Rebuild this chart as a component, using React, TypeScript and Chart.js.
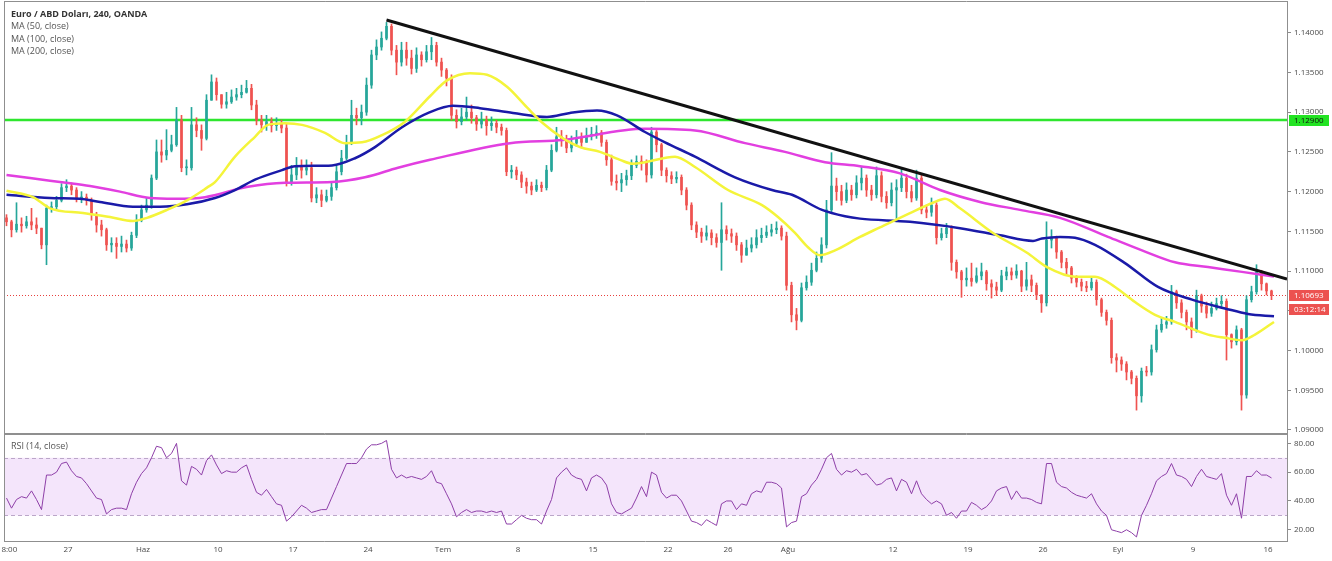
import React, { useEffect, useRef } from 'react';
import { Chart, registerables } from 'chart.js';
Chart.register(...registerables);

// ---- EUR/USD candles (each candle here ~8h) ----
const FIRST_OPEN = 1.1167;
const closes = [
  1.1162, 1.1152, 1.1159, 1.1157, 1.1162, 1.1158, 1.1154, 1.1133, 1.1179, 1.1181,
  1.1189, 1.1205, 1.1207, 1.1202, 1.1192, 1.1193, 1.1189, 1.1171, 1.1158, 1.1152,
  1.1133, 1.1135, 1.1131, 1.1134, 1.1129, 1.1145, 1.1164, 1.1177, 1.1183, 1.1217,
  1.1250, 1.1246, 1.1252, 1.1259, 1.1290, 1.1230, 1.1230, 1.1284, 1.1277, 1.1267,
  1.1315, 1.1338, 1.1322, 1.1310, 1.1313, 1.1319, 1.1322, 1.1325, 1.1330, 1.1309,
  1.1290, 1.1284, 1.1288, 1.1283, 1.1285, 1.1280, 1.1212, 1.1221, 1.1233, 1.1227,
  1.1230, 1.1192, 1.1196, 1.1189, 1.1194, 1.1205, 1.1225, 1.1242, 1.1261, 1.1296,
  1.1293, 1.1300, 1.1334, 1.1372, 1.1382, 1.1393, 1.1408, 1.1378, 1.1363, 1.1378,
  1.1368, 1.1355, 1.1372, 1.1366, 1.1376, 1.1384, 1.1363, 1.1353, 1.1343, 1.1296,
  1.1288, 1.1294, 1.1300, 1.1293, 1.1285, 1.1290, 1.1283, 1.1286, 1.1281, 1.1277,
  1.1225, 1.1227, 1.1221, 1.1212, 1.1207, 1.1202, 1.1208, 1.1205, 1.1227, 1.1252,
  1.1269, 1.1265, 1.1255, 1.1261, 1.1267, 1.1262, 1.1270, 1.1272, 1.1274, 1.1262,
  1.1240, 1.1213, 1.1211, 1.1215, 1.1220, 1.1233, 1.1238, 1.1237, 1.1221, 1.1275,
  1.1259, 1.1227, 1.1220, 1.1216, 1.1218, 1.1202, 1.1183, 1.1158, 1.1149, 1.1144,
  1.1148, 1.1142, 1.1136, 1.1152, 1.1147, 1.1144, 1.1133, 1.1120, 1.1129, 1.1133,
  1.1142, 1.1145, 1.1149, 1.1152, 1.1154, 1.1144, 1.1082, 1.1045, 1.1038, 1.1079,
  1.1086, 1.1101, 1.1116, 1.1133, 1.1177, 1.1207, 1.1200, 1.1189, 1.1202, 1.1196,
  1.1211, 1.1217, 1.1202, 1.1196, 1.1220, 1.1194, 1.1186, 1.1202, 1.1205, 1.1217,
  1.1200, 1.1192, 1.1217, 1.1177, 1.1174, 1.1183, 1.1142, 1.1147, 1.1154, 1.1111,
  1.1099, 1.1089, 1.1091, 1.1087, 1.1094, 1.1099, 1.1084, 1.1080, 1.1076, 1.1094,
  1.1099, 1.1095, 1.1100, 1.1081, 1.1089, 1.1082, 1.1070, 1.1060, 1.1139, 1.1142,
  1.1124, 1.1111, 1.1104, 1.1091, 1.1086, 1.1081, 1.1079, 1.1086, 1.1064, 1.1048,
  1.1038, 1.0991, 1.0988, 1.0983, 1.0973, 1.0965, 1.0943, 1.0974, 1.0973, 1.1001,
  1.1026, 1.1033, 1.1036, 1.1074, 1.1060, 1.1048, 1.1036, 1.1026, 1.1069, 1.1056,
  1.1047, 1.1053, 1.1059, 1.1062, 1.1020, 1.1011, 1.1026, 1.0944, 1.1064, 1.1074,
  1.1099, 1.1084, 1.1075, 1.10693,
];
const highs = [
  1.1171, 1.1164, 1.1186, 1.1167, 1.1169, 1.1179, 1.1167, 1.1154, 1.1183, 1.1187,
  1.1194, 1.1210, 1.1215, 1.1211, 1.1205, 1.1200, 1.1197, 1.1192, 1.1174, 1.1164,
  1.1154, 1.1142, 1.1142, 1.1144, 1.1139, 1.1149, 1.1171, 1.1183, 1.1192, 1.1221,
  1.1265, 1.1265, 1.1278, 1.1271, 1.1306, 1.1296, 1.1240, 1.1306, 1.1293, 1.1284,
  1.1322, 1.1347, 1.1343, 1.1322, 1.1325, 1.1328, 1.1330, 1.1334, 1.1340, 1.1335,
  1.1315, 1.1296, 1.1296, 1.1293, 1.1293, 1.1290, 1.1285, 1.1233, 1.1243, 1.1240,
  1.1240, 1.1237, 1.1205, 1.1202, 1.1202, 1.1212, 1.1233, 1.1252, 1.1271, 1.1315,
  1.1305, 1.1309, 1.1343, 1.1378, 1.1391, 1.1401, 1.1413, 1.1411, 1.1384, 1.1388,
  1.1388, 1.1378, 1.1381, 1.1376, 1.1384, 1.1394, 1.1388, 1.1368, 1.1355, 1.1347,
  1.1303, 1.1305, 1.1319, 1.1309, 1.1296, 1.1300, 1.1295, 1.1294, 1.1290, 1.1285,
  1.1280, 1.1233, 1.1231, 1.1225, 1.1217, 1.1212, 1.1215, 1.1212, 1.1233, 1.1259,
  1.1281, 1.1277, 1.1271, 1.1270, 1.1277, 1.1274, 1.1280, 1.1281, 1.1283, 1.1277,
  1.1265, 1.1246, 1.1221, 1.1223, 1.1227, 1.1240, 1.1245, 1.1245, 1.1240, 1.1281,
  1.1277, 1.1261, 1.1230, 1.1225, 1.1225, 1.1221, 1.1205, 1.1186, 1.1162, 1.1154,
  1.1157, 1.1152, 1.1147, 1.1186, 1.1157, 1.1153, 1.1148, 1.1136, 1.1139, 1.1142,
  1.1152, 1.1154, 1.1157, 1.1159, 1.1162, 1.1157, 1.1149, 1.1086, 1.1053, 1.1085,
  1.1094, 1.1110, 1.1124, 1.1142, 1.1189, 1.1249, 1.1217, 1.1208, 1.1211, 1.1208,
  1.1220, 1.1231, 1.1221, 1.1208, 1.1231, 1.1225, 1.1200, 1.1211, 1.1215, 1.1230,
  1.1222, 1.1208, 1.1227, 1.1221, 1.1183, 1.1192, 1.1186, 1.1154, 1.1160, 1.1157,
  1.1114, 1.1101, 1.1104, 1.1110, 1.1104, 1.1110, 1.1101, 1.1089, 1.1086, 1.1101,
  1.1105, 1.1104, 1.1108, 1.1101, 1.1111, 1.1095, 1.1085, 1.1070, 1.1162, 1.1152,
  1.1144, 1.1126, 1.1116, 1.1106, 1.1094, 1.1090, 1.1087, 1.1092, 1.1089, 1.1066,
  1.1051, 1.1041, 1.0996, 1.0992, 1.0986, 1.0975, 1.0968, 1.0978, 1.0980, 1.1007,
  1.1032, 1.1041, 1.1043, 1.1082, 1.1076, 1.1064, 1.1051, 1.1041, 1.1076, 1.1071,
  1.1061, 1.1061, 1.1066, 1.1069, 1.1065, 1.1021, 1.1031, 1.1028, 1.1069, 1.1081,
  1.1108, 1.1101, 1.1085, 1.1076,
];
const lows = [
  1.1157, 1.1143, 1.1149, 1.1149, 1.1154, 1.1152, 1.1147, 1.1128, 1.1108, 1.1174,
  1.1177, 1.1187, 1.1200, 1.1196, 1.1187, 1.1186, 1.1183, 1.1164, 1.1149, 1.1144,
  1.1126, 1.1124, 1.1116, 1.1124, 1.1124, 1.1126, 1.1142, 1.1162, 1.1174, 1.1179,
  1.1215, 1.1237, 1.1240, 1.1250, 1.1257, 1.1225, 1.1221, 1.1227, 1.1269, 1.1252,
  1.1265, 1.1315, 1.1315, 1.1305, 1.1305, 1.1311, 1.1315, 1.1318, 1.1324, 1.1303,
  1.1284, 1.1275, 1.1277, 1.1275, 1.1277, 1.1274, 1.1207, 1.1208, 1.1215, 1.1217,
  1.1221, 1.1187, 1.1186, 1.1181, 1.1187, 1.1189, 1.1202, 1.1221, 1.1240, 1.1259,
  1.1284, 1.1284, 1.1296, 1.1330, 1.1366, 1.1378, 1.1391, 1.1372, 1.1347, 1.1358,
  1.1359, 1.1348, 1.1350, 1.1358, 1.1363, 1.1366, 1.1358, 1.1345, 1.1333, 1.1290,
  1.1280, 1.1284, 1.1290, 1.1286, 1.1277, 1.1280, 1.1271, 1.1277, 1.1274, 1.1271,
  1.1220, 1.1217, 1.1215, 1.1205, 1.1198, 1.1196, 1.1200, 1.1200, 1.1202, 1.1225,
  1.1250, 1.1257, 1.1249, 1.1250, 1.1257, 1.1255, 1.1262, 1.1265, 1.1267, 1.1257,
  1.1233, 1.1208, 1.1202, 1.1200, 1.1208, 1.1215, 1.1230, 1.1227, 1.1212, 1.1217,
  1.1250, 1.1220, 1.1212, 1.1210, 1.1211, 1.1196, 1.1177, 1.1152, 1.1142, 1.1136,
  1.1139, 1.1133, 1.1130, 1.1101, 1.1139, 1.1136, 1.1126, 1.1111, 1.1120, 1.1124,
  1.1129, 1.1136, 1.1142, 1.1144, 1.1147, 1.1139, 1.1076, 1.1036, 1.1026, 1.1036,
  1.1076, 1.1082, 1.1099, 1.1111, 1.1129, 1.1174, 1.1189, 1.1183, 1.1186, 1.1189,
  1.1192, 1.1202, 1.1194, 1.1189, 1.1192, 1.1187, 1.1179, 1.1182, 1.1162, 1.1200,
  1.1192, 1.1187, 1.1189, 1.1172, 1.1167, 1.1169, 1.1134, 1.1139, 1.1142, 1.1101,
  1.1091, 1.1067, 1.1081, 1.1081, 1.1085, 1.1089, 1.1076, 1.1066, 1.1069, 1.1074,
  1.1089, 1.1089, 1.1091, 1.1074, 1.1076, 1.1074, 1.1064, 1.1048, 1.1056, 1.1129,
  1.1116, 1.1104, 1.1096, 1.1085, 1.1080, 1.1075, 1.1074, 1.1076, 1.1057, 1.1043,
  1.1032, 1.0984, 1.0973, 1.0975, 1.0963, 1.0958, 1.0925, 1.0935, 1.0968, 1.0969,
  1.0998, 1.1023, 1.1028, 1.1033, 1.1053, 1.1041, 1.1026, 1.1016, 1.1023, 1.1048,
  1.1041, 1.1043, 1.1051, 1.1055, 1.0988, 1.1003, 1.1007, 1.0925, 1.0940, 1.1061,
  1.1071, 1.1076, 1.1070, 1.1064,
];

// ---- RSI (14, close), one value per candle ----
const rsi = [
  42, 35, 41, 43, 42, 47, 41, 34, 58, 58,
  60, 66, 67, 61, 57, 56, 52, 47, 42, 41,
  31, 34, 35, 35, 34, 45, 53, 59, 63, 70,
  78, 77, 70, 73, 80, 54, 51, 64, 62, 58,
  68, 72, 65, 59, 61, 60, 60, 63, 65, 55,
  46, 44, 48, 43, 38, 37, 26, 29, 33, 37,
  35, 32, 33, 34, 34, 42, 50, 58, 66, 66,
  66, 70, 76, 79, 79, 80, 82, 62, 56, 58,
  56, 57, 56, 55, 57, 61, 53, 52, 45, 38,
  29, 32, 34, 32, 33, 33, 32, 33, 32, 33,
  24, 24, 27, 30, 28, 27, 27, 24, 33, 41,
  56, 60, 63, 58, 56, 55, 47, 56, 58, 56,
  51, 38, 32, 31, 33, 35, 42, 50, 43, 60,
  58, 46, 42, 44, 44, 40, 33, 26, 25, 23,
  27, 25, 23, 38, 40, 40, 34, 38, 37, 45,
  47, 46, 53, 53, 52, 49, 22, 25, 26, 43,
  45, 51, 55, 62, 70, 73, 62, 58, 61, 60,
  62, 58, 59, 55, 51, 52, 55, 56, 47, 55,
  53, 45, 54, 45, 41, 38, 40, 38, 30, 32,
  28, 33, 33, 39, 37, 34, 36, 40, 47, 49,
  50, 41, 47, 42, 42, 41, 39, 38, 66, 66,
  53, 50, 49, 46, 44, 43, 42, 45, 38, 33,
  30, 20, 19, 18, 20, 18, 15, 30, 37, 45,
  54, 57, 59, 66, 58, 57, 55, 50, 57, 62,
  57, 56, 55, 59, 44, 37, 45, 28, 57, 57,
  61, 58, 58, 56,
];

// ---- Moving averages, sampled at candle positions ----
const ma50Idx = [0, 5.3, 8.7, 15.3, 20.7, 25.3, 28.1, 32.1, 36.1, 40.1, 41.7, 45.7, 49.7, 52.3, 55.7, 59.1, 63.7, 67.7, 71.1, 75.1, 79.7, 84.7, 88.1, 92.7, 96.1, 100.1, 104.1, 107.3, 111.3, 114.7, 118.7, 122.7, 125.3, 127.7, 133.7, 137.7, 144.3, 151.1, 154.3, 157.7, 160.3, 162.7, 165.7, 170.7, 174.7, 180.7, 185.3, 187.7, 190.7, 197.3, 204.1, 208.1, 213.7, 217.7, 221.7, 225.7, 229.7, 233.7, 240.3, 243.7, 247.1, 249.7, 253.5];
const ma50Val = [1.1201, 1.1193, 1.1179, 1.1173, 1.1168, 1.1163, 1.1167, 1.1177, 1.1189, 1.1205, 1.1212, 1.1244, 1.1269, 1.1284, 1.1286, 1.1284, 1.1274, 1.1261, 1.1262, 1.1271, 1.1288, 1.1320, 1.1340, 1.1349, 1.1347, 1.1332, 1.1306, 1.1286, 1.1267, 1.1256, 1.1250, 1.1240, 1.1235, 1.1237, 1.1244, 1.1231, 1.1202, 1.1183, 1.1168, 1.1148, 1.1130, 1.1120, 1.1126, 1.1143, 1.1155, 1.1173, 1.1186, 1.1191, 1.1179, 1.1148, 1.1123, 1.1105, 1.1093, 1.1093, 1.1080, 1.1061, 1.1045, 1.1036, 1.1020, 1.1016, 1.1013, 1.1020, 1.1036];
const ma100Idx = [0, 8.7, 14.7, 18.7, 25.3, 30.7, 36.1, 41.7, 45.7, 49.7, 55.1, 57.7, 65.1, 69.7, 73.7, 79.1, 84.7, 89.3, 94.7, 101.3, 108.1, 112.7, 118.1, 122.1, 127.7, 131.7, 137.7, 145.7, 153.1, 157.1, 163.1, 167.7, 170.7, 180.7, 190.7, 198.7, 205.3, 207.1, 210.7, 213.7, 217.7, 223.7, 230.3, 237.1, 243.7, 248.3, 253.5];
const ma100Val = [1.1196, 1.1192, 1.1191, 1.1187, 1.1181, 1.1181, 1.1184, 1.1192, 1.1202, 1.1215, 1.1227, 1.1232, 1.1233, 1.1242, 1.1256, 1.1281, 1.1300, 1.1308, 1.1305, 1.1299, 1.1294, 1.1299, 1.1302, 1.1296, 1.1275, 1.1262, 1.1244, 1.1218, 1.1202, 1.1196, 1.1177, 1.1169, 1.1166, 1.1162, 1.1154, 1.1145, 1.1138, 1.1141, 1.1143, 1.1142, 1.1133, 1.1110, 1.1080, 1.1064, 1.1053, 1.1046, 1.1043];
const ma200Idx = [0, 4.7, 10.7, 16.7, 22.7, 28.7, 33.7, 39.7, 48.3, 55.7, 65.1, 71.7, 78.3, 84.7, 100.7, 111.3, 127.7, 137.7, 147.7, 155.7, 163.7, 170.7, 178.7, 186.7, 194.7, 202.7, 210.7, 220.3, 227.1, 233.7, 240.3, 247.1, 253.5];
const ma200Val = [1.1221, 1.1217, 1.1212, 1.1207, 1.1200, 1.1192, 1.1191, 1.1193, 1.1206, 1.1211, 1.1212, 1.1218, 1.1230, 1.1240, 1.1261, 1.1265, 1.1279, 1.1277, 1.1261, 1.1250, 1.1237, 1.1232, 1.1223, 1.1202, 1.1187, 1.1177, 1.1167, 1.1143, 1.1126, 1.1111, 1.1105, 1.1099, 1.1093];

// ---- Drawn levels ----
const trendIdx = [76.0, 256.1];
const trendVal = [1.1416, 1.1090];
const resistance = 1.129;
const countdown = '03:12:14';

// ---- Axes ----
const priceTicks = [1.09, 1.095, 1.1, 1.105, 1.11, 1.115, 1.12, 1.125, 1.13, 1.135, 1.14];
const rsiTicks = [20, 40, 60, 80];
const rsiUpper = 70;
const rsiLower = 30;
const xTickPos = [0.1, 12.3, 27.3, 42.3, 57.3, 72.3, 87.3, 102.3, 117.3, 132.3, 144.3, 156.3, 177.3, 192.3, 207.3, 222.3, 237.3, 252.3];
const xTickLabels = ['18:00', '27', 'Haz', '10', '17', '24', 'Tem', '8', '15', '22', '26', 'Ağu', '12', '19', '26', 'Eyl', '9', '16'];
const X_MIN = -0.5;
const X_MAX = 256.1;
const P_MIN = 1.08962;
const P_MAX = 1.14399;
const R_MIN = 12.2;
const R_MAX = 86.5;

const FONT = "'Open Sans', sans-serif";
const UP = '#26a69a';
const DOWN = '#ef5350';
const FRAME = '#8f8f8f';
const AXIS_TEXT = '#4a4a4a';

function drawFrame(chart: any) {
  const { ctx, chartArea: a } = chart;
  ctx.save();
  ctx.strokeStyle = FRAME;
  ctx.lineWidth = 1;
  ctx.beginPath();
  ctx.moveTo(a.left + 0.5, a.top + 0.5);
  ctx.lineTo(a.right, a.top + 0.5);
  ctx.moveTo(a.left + 0.5, a.top);
  ctx.lineTo(a.left + 0.5, a.bottom + 1);
  ctx.moveTo(a.left, a.bottom + 0.5);
  ctx.lineTo(a.right, a.bottom + 0.5);
  ctx.stroke();
  ctx.restore();
}

export default function App() {
  const priceRef = useRef<HTMLCanvasElement | null>(null);
  const rsiRef = useRef<HTMLCanvasElement | null>(null);

  useEffect(() => {
    Chart.defaults.font.family = FONT;
    const opens = closes.map((c, i) => (i === 0 ? FIRST_OPEN : closes[i - 1]));
    const colors = closes.map((c, i) => (c >= opens[i] ? UP : DOWN));
    const lastClose = closes[closes.length - 1];

    const pricePlugin = {
      id: 'priceDecor',
      beforeDatasetsDraw(chart: any) {
        const { ctx, chartArea: a, scales } = chart;
        const y = scales.y;
        ctx.save();
        const yr = y.getPixelForValue(resistance);
        ctx.strokeStyle = '#2ee62e';
        ctx.lineWidth = 2.5;
        ctx.beginPath();
        ctx.moveTo(a.left, yr);
        ctx.lineTo(a.right, yr);
        ctx.stroke();
        const yl = Math.round(y.getPixelForValue(lastClose)) + 0.5;
        ctx.strokeStyle = '#e8403e';
        ctx.lineWidth = 1;
        ctx.setLineDash([1, 2]);
        ctx.beginPath();
        ctx.moveTo(a.left, yl);
        ctx.lineTo(a.right, yl);
        ctx.stroke();
        ctx.restore();
      },
      afterDraw(chart: any) {
        drawFrame(chart);
        const { ctx, chartArea: a, scales } = chart;
        const y = scales.y;
        const x0 = a.right + 2;
        const w = 40;
        const h = 11;
        const box = (cy: number, text: string, bg: string, fg: string) => {
          ctx.fillStyle = bg;
          ctx.fillRect(x0, Math.round(cy - h / 2), w, h);
          ctx.fillStyle = fg;
          ctx.font = `8px ${FONT}`;
          ctx.textAlign = 'left';
          ctx.textBaseline = 'middle';
          ctx.fillText(text, x0 + 5, Math.round(cy - h / 2) + h / 2 + 0.5);
        };
        ctx.save();
        box(y.getPixelForValue(resistance), resistance.toFixed(5), '#22e322', '#111');
        const ly = y.getPixelForValue(lastClose);
        box(ly, lastClose.toFixed(5), '#ec5250', '#fff');
        box(ly + h + 3, countdown, '#ec5250', '#fff');
        ctx.restore();
      },
    };

    const priceChart = new Chart(priceRef.current as HTMLCanvasElement, {
      type: 'bar',
      data: {
        datasets: [
          {
            type: 'line',
            label: 'Trend',
            data: trendIdx.map((x, i) => ({ x, y: trendVal[i] })),
            borderColor: '#111111',
            borderWidth: 3,
            pointRadius: 0,
            order: 0,
          },
          {
            type: 'line',
            label: 'MA (50, close)',
            data: ma50Idx.map((x, i) => ({ x, y: ma50Val[i] })),
            borderColor: '#f4f43a',
            borderWidth: 2.5,
            pointRadius: 0,
            cubicInterpolationMode: 'monotone',
            order: 1,
          },
          {
            type: 'line',
            label: 'MA (100, close)',
            data: ma100Idx.map((x, i) => ({ x, y: ma100Val[i] })),
            borderColor: '#1a1aa8',
            borderWidth: 2.5,
            pointRadius: 0,
            cubicInterpolationMode: 'monotone',
            order: 2,
          },
          {
            type: 'line',
            label: 'MA (200, close)',
            data: ma200Idx.map((x, i) => ({ x, y: ma200Val[i] })),
            borderColor: '#e23fe0',
            borderWidth: 2.5,
            pointRadius: 0,
            cubicInterpolationMode: 'monotone',
            order: 3,
          },
          {
            type: 'bar',
            label: 'body',
            data: closes.map((c, i) => ({ x: i, y: [opens[i], c] })),
            backgroundColor: colors,
            barThickness: 2,
            minBarLength: 1,
            grouped: false,
            order: 4,
          },
          {
            type: 'bar',
            label: 'wick',
            data: closes.map((c, i) => ({
              x: i,
              y: [Math.min(lows[i], opens[i], c), Math.max(highs[i], opens[i], c)],
            })),
            backgroundColor: colors,
            barThickness: 1,
            grouped: false,
            order: 5,
          },
        ] as any,
      },
      options: {
        responsive: false,
        animation: false,
        events: [],
        layout: { padding: { left: 4, top: 1, right: 0, bottom: 1 } },
        plugins: { legend: { display: false }, tooltip: { enabled: false } },
        scales: {
          x: { type: 'linear', min: X_MIN, max: X_MAX, offset: false, display: false },
          y: {
            type: 'linear',
            position: 'right',
            min: P_MIN,
            max: P_MAX,
            bounds: 'data',
            afterBuildTicks: (s: any) => {
              s.ticks = priceTicks.map((v) => ({ value: v }));
            },
            afterFit: (s: any) => {
              s.width = 45;
              s.paddingTop = 0;
              s.paddingBottom = 0;
            },
            ticks: {
              callback: (v: any) => Number(v).toFixed(5),
              color: AXIS_TEXT,
              font: { size: 8, family: FONT },
              padding: 3,
              autoSkip: false,
            },
            grid: { drawOnChartArea: false, drawTicks: true, tickLength: 4, color: '#8a8a8a' },
            border: { display: true, color: FRAME },
          },
        } as any,
      },
      plugins: [pricePlugin],
    });

    const rsiPlugin = {
      id: 'rsiDecor',
      beforeDatasetsDraw(chart: any) {
        const { ctx, chartArea: a, scales } = chart;
        const y = scales.y;
        const yt = y.getPixelForValue(rsiUpper);
        const yb = y.getPixelForValue(rsiLower);
        ctx.save();
        ctx.fillStyle = '#f4e5fb';
        ctx.fillRect(a.left, yt, a.right - a.left, yb - yt);
        ctx.strokeStyle = '#bba6c9';
        ctx.lineWidth = 1;
        ctx.setLineDash([4, 3]);
        ctx.beginPath();
        ctx.moveTo(a.left, Math.round(yt) + 0.5);
        ctx.lineTo(a.right, Math.round(yt) + 0.5);
        ctx.moveTo(a.left, Math.round(yb) + 0.5);
        ctx.lineTo(a.right, Math.round(yb) + 0.5);
        ctx.stroke();
        ctx.restore();
      },
      afterDraw(chart: any) {
        drawFrame(chart);
      },
    };

    const rsiChart = new Chart(rsiRef.current as HTMLCanvasElement, {
      type: 'line',
      data: {
        datasets: [
          {
            label: 'RSI (14, close)',
            data: rsi.map((v, i) => ({ x: i, y: v })),
            borderColor: '#8e3fa8',
            borderWidth: 1,
            pointRadius: 0,
            tension: 0,
          },
        ],
      },
      options: {
        responsive: false,
        animation: false,
        events: [],
        layout: { padding: { left: 4, top: 0, right: 0, bottom: 0 } },
        plugins: { legend: { display: false }, tooltip: { enabled: false } },
        scales: {
          x: {
            type: 'linear',
            position: 'bottom',
            min: X_MIN,
            max: X_MAX,
            offset: false,
            afterBuildTicks: (s: any) => {
              s.ticks = xTickPos.map((v) => ({ value: v }));
            },
            afterFit: (s: any) => {
              s.height = 20;
              s.paddingLeft = 0;
              s.paddingRight = 0;
            },
            ticks: {
              callback: (_v: any, i: number) => xTickLabels[i],
              autoSkip: false,
              maxRotation: 0,
              minRotation: 0,
              color: AXIS_TEXT,
              font: { size: 8, family: FONT },
              padding: 4,
            },
            grid: { display: false, drawTicks: false },
            border: { display: false },
          },
          y: {
            type: 'linear',
            position: 'right',
            min: R_MIN,
            max: R_MAX,
            bounds: 'data',
            afterBuildTicks: (s: any) => {
              s.ticks = rsiTicks.map((v) => ({ value: v }));
            },
            afterFit: (s: any) => {
              s.width = 45;
              s.paddingTop = 0;
              s.paddingBottom = 0;
            },
            ticks: {
              callback: (v: any) => Number(v).toFixed(2),
              color: AXIS_TEXT,
              font: { size: 8, family: FONT },
              padding: 3,
              autoSkip: false,
            },
            grid: { drawOnChartArea: false, drawTicks: true, tickLength: 4, color: '#8a8a8a' },
            border: { display: true, color: FRAME },
          },
        } as any,
      },
      plugins: [rsiPlugin],
    });

    return () => {
      priceChart.destroy();
      rsiChart.destroy();
    };
  }, []);

  const legendLine: React.CSSProperties = { whiteSpace: 'nowrap', color: '#555' };

  return (
    <div
      style={{
        position: 'fixed',
        left: 0,
        top: 0,
        width: 1332,
        height: 561,
        background: '#ffffff',
        fontFamily: FONT,
        overflow: 'hidden',
      }}
    >
      <canvas
        ref={priceRef}
        width={1332}
        height={434}
        style={{ position: 'absolute', left: 0, top: 0, width: 1332, height: 434, display: 'block' }}
      />
      <canvas
        ref={rsiRef}
        width={1332}
        height={127}
        style={{ position: 'absolute', left: 0, top: 434, width: 1332, height: 127, display: 'block' }}
      />
      <div style={{ position: 'absolute', left: 11, top: 8, fontSize: 9, lineHeight: '12.3px' }}>
        <div style={{ ...legendLine, color: '#333', fontWeight: 700 }}>Euro / ABD Doları, 240, OANDA</div>
        <div style={legendLine}>MA (50, close)</div>
        <div style={legendLine}>MA (100, close)</div>
        <div style={legendLine}>MA (200, close)</div>
      </div>
      <div style={{ position: 'absolute', left: 11, top: 440, fontSize: 9, lineHeight: '12px', color: '#555' }}>
        RSI (14, close)
      </div>
    </div>
  );
}
